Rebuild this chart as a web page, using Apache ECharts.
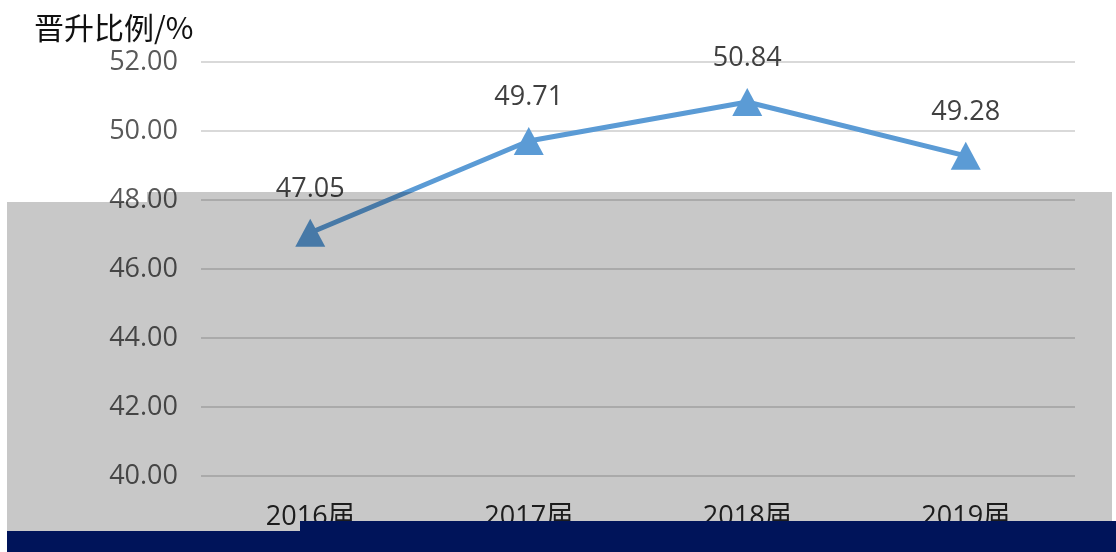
<!DOCTYPE html>
<html>
<head>
<meta charset="utf-8">
<script src="https://cdn.jsdelivr.net/npm/echarts@6/dist/echarts.min.js"></script>
<style>
html,body{margin:0;padding:0;background:#fff;}
#chart{width:1116px;height:552px;}
</style>
</head>
<body>
<div id="chart"></div>
<script>
var categories = ['2016届', '2017届', '2018届', '2019届'];
var values = [47.05, 49.71, 50.84, 49.28];
var yTitle = '晋升比例/%';

var chart = echarts.init(document.getElementById('chart'));
chart.setOption({
  animation: false,
  backgroundColor: '#ffffff',
  grid: { left: 201, right: 41, top: 62, bottom: 76 },
  xAxis: {
    type: 'category',
    data: categories,
    boundaryGap: true,
    axisLine: { show: false },
    axisTick: { show: false },
    axisLabel: { margin: 28, fontSize: 27, color: '#262626', fontFamily: 'Open Sans, Noto Sans CJK SC' }
  },
  yAxis: {
    type: 'value',
    min: 40, max: 52, interval: 2,
    axisLine: { show: false },
    axisTick: { show: false },
    splitLine: { lineStyle: { color: '#d9d9d9', width: 2 } },
    axisLabel: {
      margin: 23, fontSize: 27, color: '#595959', fontFamily: 'Open Sans',
      formatter: function (v) { return v.toFixed(2); }
    }
  },
  graphic: [
    { type: 'text', left: 34, top: 13, z: 50,
      style: { text: yTitle, font: '30px "Noto Sans CJK SC"', fill: '#111' } },
    { type: 'polygon', z: 100, silent: true,
      shape: { points: [[7,202],[147,202],[147,192],[1112,192],[1112,531],[7,531]] },
      style: { fill: 'rgba(0,0,0,0.216)' } },
    { type: 'polygon', z: 101, silent: true,
      shape: { points: [[7,531],[300,531],[300,521],[1116,521],[1116,552],[7,552]] },
      style: { fill: '#00145a' } }
  ],
  series: [{
    type: 'line',
    data: values,
    symbol: 'triangle',
    symbolSize: [30, 28],
    lineStyle: { color: '#5b9bd5', width: 5 },
    itemStyle: { color: '#5b9bd5' },
    label: {
      show: true, position: 'top', distance: 16,
      fontSize: 27, color: '#404040', fontFamily: 'Open Sans',
      formatter: function (p) { return p.value.toFixed(2); }
    }
  }]
});
</script>
</body>
</html>
